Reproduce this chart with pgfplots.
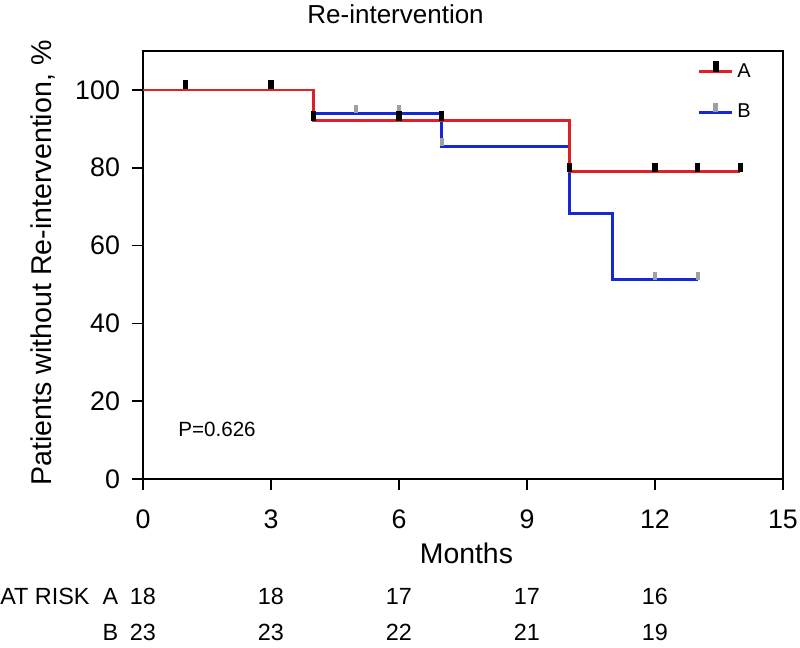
\documentclass[border=0pt]{standalone}
\usepackage{pgfplots}
\pgfplotsset{compat=1.18}
\usepackage{fontspec}
\setmainfont{Liberation Sans}

\definecolor{kmred}{RGB}{222,32,40}
\definecolor{kmblue}{RGB}{20,40,216}
\definecolor{censgray}{RGB}{160,160,160}

\begin{document}
\begin{tikzpicture}
  \begin{axis}[
      name=ax,
      scale only axis,
      width=320pt, height=214pt,
      xmin=0, xmax=15,
      ymin=0, ymax=110,
      xtick={0,3,6,9,12,15},
      ytick={0,20,40,60,80,100},
      tick align=outside,
      xtick pos=bottom, ytick pos=left,
      major tick length=5.5pt,
      axis line style={line width=0.8pt},
      every tick/.style={black, line width=0.8pt},
      tick label style={font=\fontsize{13.4}{15}\selectfont},
      xticklabel style={yshift=-6.5pt},
      yticklabel style={xshift=-2.5pt},
      /pgf/number format/assume math mode=true,
      clip=false,
      legend cell align=left,
      legend style={draw=none, fill=none, at={(1,1)}, anchor=north east,
        xshift=-14pt, yshift=-4pt, inner sep=0pt, row sep=8pt,
        font=\fontsize{10}{12}\selectfont},
    ]
    % legend samples: line with censor tick
    \addlegendimage{legend image code/.code={
        \draw[kmred, line width=1.3pt] (0pt,0pt) -- (16.5pt,0pt);
        \fill[black] (7pt,0.4pt) rectangle (9.5pt,5pt);}}
    \addlegendentry{A}
    \addlegendimage{legend image code/.code={
        \draw[kmblue, line width=1.3pt] (0pt,0pt) -- (16.5pt,0pt);
        \fill[censgray] (7.3pt,0.4pt) rectangle (9.2pt,4.5pt);}}
    \addlegendentry{B}

    % B curve (drawn first, A sits on top)
    \addplot[const plot, kmblue, line width=1.35pt, forget plot] coordinates {
      (0,100) (4,94.0) (7,85.4) (10,68.3) (11,51.3) (13,51.3)
    };
    % A curve
    \addplot[const plot, kmred, line width=1.35pt, forget plot] coordinates {
      (0,100) (4,92.1) (10,79.0) (14,79.0)
    };
    % censored, B
    \addplot[only marks, mark=|, mark size=2pt, forget plot,
      mark options={censgray, line width=2pt}] coordinates {
      (5,95.0) (6,95.0) (7,86.5) (12,52.2) (13,52.2)
    };
    % censored, A
    \addplot[only marks, mark=|, mark size=2.3pt, forget plot,
      mark options={black, line width=2.6pt}] coordinates {
      (1,101.3) (3,101.3) (4,93.3) (6,93.3) (7,93.3)
      (10,80.0) (12,80.0) (13,80.0) (14,80.0)
    };

    % texts
    \node[anchor=base, inner sep=0pt, font=\fontsize{13}{15}\selectfont]
      at (axis cs:5.92,116.94) {Re-intervention};
    \node[anchor=base, rotate=90, inner sep=0pt, font=\fontsize{14.3}{16}\selectfont]
      at (axis cs:-2.133,55.5) {Patients without Re-intervention, \%};
    \node[anchor=base, inner sep=0pt, font=\fontsize{14.2}{16}\selectfont]
      at (axis cs:7.58,-21.59) {Months};
    \node[anchor=base west, inner sep=0pt, font=\fontsize{10.3}{12}\selectfont]
      at (axis cs:0.82,11.05) {P=0.626};

    % numbers at risk
    \begin{scope}[every node/.style={anchor=base, inner sep=0pt, font=\fontsize{11.7}{13}\selectfont}]
      \node[anchor=base east] at (axis cs:-1.242,-32.13) {AT RISK};
      \node at (axis cs:-0.762,-32.13) {A};
      \node at (axis cs:-0.762,-41.63) {B};
      \node at (axis cs:0,-32.13) {18};
      \node at (axis cs:3,-32.13) {18};
      \node at (axis cs:6,-32.13) {17};
      \node at (axis cs:9,-32.13) {17};
      \node at (axis cs:12,-32.13) {16};
      \node at (axis cs:0,-41.63) {23};
      \node at (axis cs:3,-41.63) {23};
      \node at (axis cs:6,-41.63) {22};
      \node at (axis cs:9,-41.63) {21};
      \node at (axis cs:12,-41.63) {19};
    \end{scope}
  \end{axis}
  \pgfresetboundingbox
  \path[use as bounding box] ([shift={(-71.5pt,-84.5pt)}]ax.south west) rectangle ++(400pt,324pt);
\end{tikzpicture}
\end{document}
